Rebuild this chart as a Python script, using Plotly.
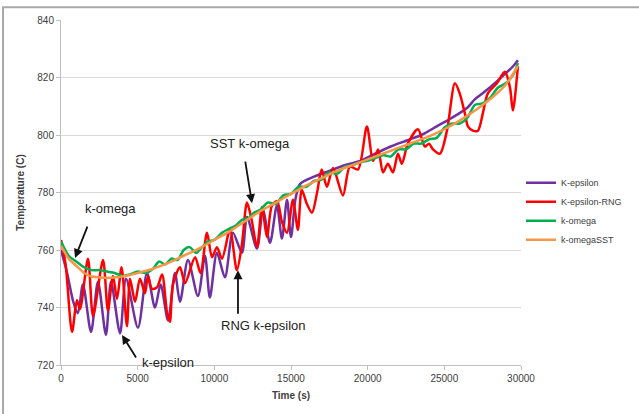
import plotly.graph_objects as go

# ---- data ----
t_keps = [0, 400, 800, 1100, 1430, 1960, 2410, 2930, 3260, 3850, 4240, 5020, 5610, 6130, 6500, 6980,
          7430, 7760, 8280, 8930, 9390, 9710, 10170, 10690, 11210, 11800, 12130, 12780, 13170, 13630,
          14080, 14410, 14740, 15000, 15300, 15600, 16500, 17500, 18500, 19500, 20500, 21500, 22500,
          23500, 24500, 25500, 26500, 27000, 27500, 28500, 29500, 29800]
v_keps = [760, 752, 742, 738, 748, 731.5, 749, 730.5, 749, 731, 750, 733, 752, 740, 748, 735.5,
          752, 742, 756.5, 744, 758, 743.5, 759, 750.5, 766, 759, 771.5, 760.5, 774, 762.5,
          775.5, 764, 777.5, 764.5, 778, 783, 785.5, 787.5, 789.5, 791, 793.5, 796, 798,
          800, 803, 806, 809.5, 812.5, 814.5, 819, 824, 826]

t_rng = [0, 300, 720, 1040, 1240, 1760, 2090, 2740, 3060, 3390, 3650, 3950, 4300, 4500, 4830, 5150,
         5480, 5670, 5930, 6260, 6590, 6910, 7100, 7300, 7760, 8090, 8740, 9100, 9520, 9850, 10170,
         10500, 11020, 11470, 11800, 12130, 12450, 12780, 13110, 13430, 13760, 14100, 14400, 14740,
         15130, 15450, 15700, 16040, 16370, 16700, 17000, 17340, 17740, 18390, 18840, 19370, 19950,
         20350, 20680, 21000, 21320, 21650, 21970, 22230, 22620, 23280, 23730, 24000, 24260, 24710,
         25170, 25690, 26000, 26340, 26540, 26860, 27190, 27510, 27840, 28430, 28950, 29280, 29470, 29800]
v_rng = [763.5, 755, 731.5, 742.5, 739.5, 757, 737, 756.5, 739, 751, 743, 754, 733.5, 750, 742, 750,
         745, 751, 746.5, 747, 751.5, 738.5, 735, 748, 754, 748.5, 757.5, 752, 766, 757.5, 761,
         757, 767, 753, 762, 776.5, 770, 761, 775, 764.5, 775.5, 777, 770, 766,
         777.5, 767, 781, 776, 773, 780, 788, 782, 788.5, 779, 789, 788, 803,
         791, 795, 787, 790, 787, 793.5, 790, 797, 802, 796, 797, 795, 793.5,
         801.5, 818, 814.5, 807.5, 803, 801.5, 801.5, 807.5, 814.5, 818, 822, 816.5, 808.5, 824]

t_kom = [0, 500, 1000, 1500, 2000, 2500, 3000, 3500, 4000, 4500, 5000, 5500, 6000, 6400, 6800, 7200,
         7600, 8000, 8400, 8800, 9200, 9600, 10000, 10500, 11000, 11400, 11800, 12200, 12600, 13000,
         13500, 14000, 14500, 15000, 15500, 16000, 16500, 17000, 17500, 18000, 18500, 19000, 19500,
         20000, 20500, 21000, 21500, 22000, 22500, 23000, 23500, 24000, 24500, 25000, 25500, 26000,
         26500, 27000, 27500, 28000, 28500, 29000, 29500, 29800]
v_kom = [763, 758, 756, 754, 753, 753, 752.5, 752, 751, 751.5, 752.5, 752, 753.5, 756, 755, 757,
         756.5, 760, 761, 759, 761, 763, 763.5, 766, 767.5, 768.5, 770.5, 771, 773, 774,
         776.5, 776, 779, 779.5, 782, 782, 784, 784.5, 787, 786.5, 789, 789.5, 790.5,
         791, 792, 793, 792.5, 795, 795, 797, 797, 798.5, 799, 802.5, 804, 804,
         806, 810.5, 811, 813, 816.5, 818, 821, 825]

t_sst = [0, 500, 1000, 1500, 2000, 2500, 3000, 3500, 4000, 4500, 5000, 6000, 7000, 8000, 9000, 10000,
         11000, 12000, 13000, 14000, 15000, 16000, 17000, 18000, 19000, 20000, 21000, 22000, 23000,
         24000, 25000, 26000, 27000, 28000, 29000, 29800]
v_sst = [761.5, 757, 754.5, 752, 750.8, 750.5, 750.3, 750.5, 750.8, 751.3, 752, 753.5, 755.5, 758, 760.5, 763.5,
         766.5, 770, 773.5, 776.5, 779.5, 782.5, 785, 787.5, 789.5, 791.5, 793.5, 795.5, 797.5,
         799.5, 802, 805, 808.5, 812.5, 817.5, 824]

series_names = ["K-epsilon", "K-epsilon-RNG", "k-omega", "k-omegaSST"]
series_colors = ["#7030A0", "#FF0000", "#00B050", "#F79646"]

y_ticks = [720, 740, 760, 780, 800, 820, 840]
x_ticks = [0, 5000, 10000, 15000, 20000, 25000, 30000]

FONT = "Liberation Sans"

fig = go.Figure()
for name, col, t, v in zip(series_names, series_colors,
                           [t_keps, t_rng, t_kom, t_sst], [v_keps, v_rng, v_kom, v_sst]):
    fig.add_trace(go.Scatter(x=t, y=v, mode="lines", name=name,
                             line=dict(color=col, width=2.5, shape="spline", smoothing=0.8)))

arrow = dict(showarrow=True, arrowhead=2, arrowsize=1, arrowwidth=1.8, arrowcolor="#111111", text="")
fig.add_annotation(x=12457, y=776.3, ax=-7, ay=-43, **arrow)
fig.add_annotation(x=913, y=757.2, ax=13, ay=-33, **arrow)
fig.add_annotation(x=3978, y=730.4, ax=15, ay=24, **arrow)
fig.add_annotation(x=11543, y=753, ax=0, ay=45, **arrow)

lab = dict(showarrow=False, font=dict(family=FONT, size=13, color="#222222"))
fig.add_annotation(x=12326, y=797.2, text="SST k-omega", **lab)
fig.add_annotation(x=3196, y=774.6, text="k-omega", **lab)
fig.add_annotation(x=6978, y=721.0, text="k-epsilon", **lab)
fig.add_annotation(x=13174, y=733.9, text="RNG k-epsilon", **lab)

fig.add_shape(type="rect", xref="paper", yref="paper",
              x0=-0.126, x1=1.30, y0=-0.20, y1=1.037,
              line=dict(color="#A8A8A8", width=2), layer="below")

fig.update_layout(
    width=639, height=414,
    margin=dict(l=61, r=118, t=20, b=49),
    paper_bgcolor="white", plot_bgcolor="white",
    font=dict(family=FONT, size=10, color="#404040"),
    showlegend=True,
    legend=dict(x=1.0, y=0.57, xanchor="left", yanchor="top",
                font=dict(family=FONT, size=9, color="#404040"),
                itemwidth=30, bgcolor="rgba(0,0,0,0)", tracegroupgap=0),
)
fig.update_xaxes(range=[0, 30000], tickvals=x_ticks, ticktext=[str(v) for v in x_ticks],
                 showgrid=False, showline=True, linecolor="#BFBFBF", linewidth=1,
                 ticks="outside", ticklen=4, tickcolor="#BFBFBF",
                 tickfont=dict(family=FONT, size=10, color="#404040"),
                 title=dict(text="<b>Time (s)</b>", font=dict(family=FONT, size=10, color="#404040"), standoff=8),
                 zeroline=False)
fig.update_yaxes(range=[720, 840], tickvals=y_ticks, ticktext=[str(v) for v in y_ticks],
                 showgrid=True, gridcolor="#D9D9D9", gridwidth=1,
                 showline=True, linecolor="#BFBFBF", linewidth=1,
                 ticks="outside", ticklen=4, tickcolor="#BFBFBF",
                 tickfont=dict(family=FONT, size=10, color="#404040"),
                 title=dict(text="<b>Temperature (C)</b>", font=dict(family=FONT, size=10, color="#404040"), standoff=10),
                 zeroline=False)

fig.write_html("out.html", config={"displayModeBar": False},
               post_script="document.body.style.margin='0';")
